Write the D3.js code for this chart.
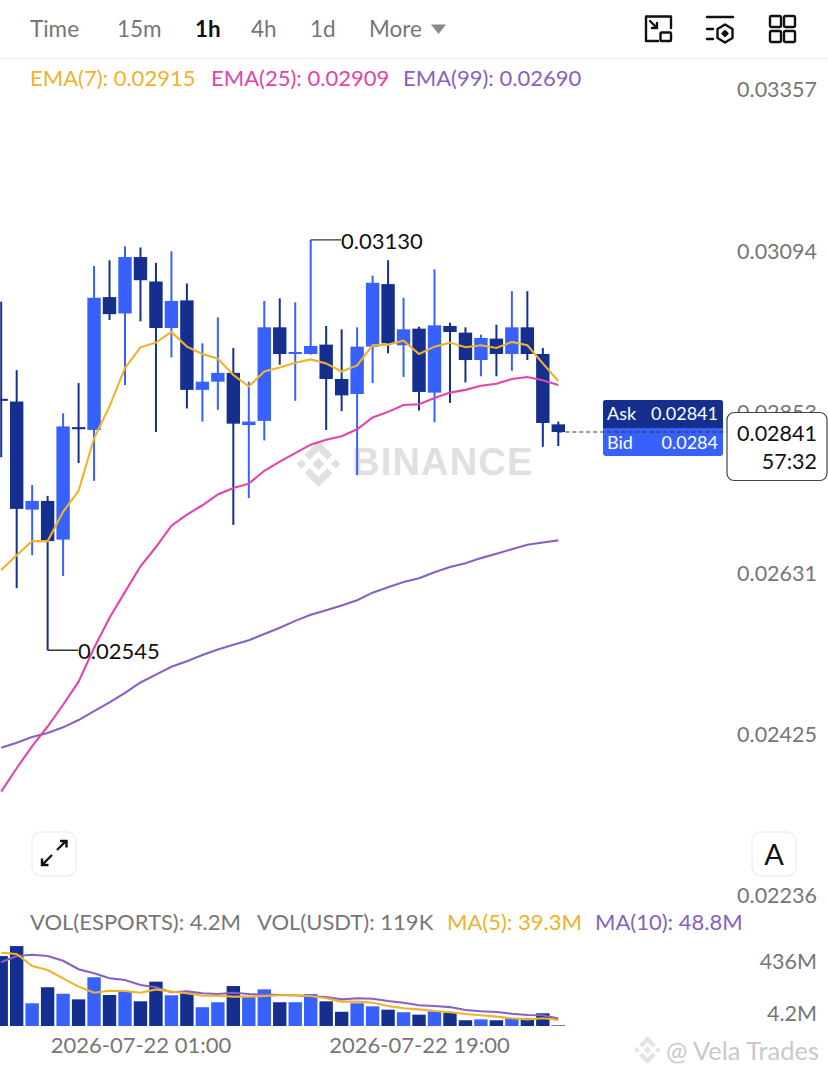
<!DOCTYPE html>
<html>
<head>
<meta charset="utf-8">
<script src="https://cdnjs.cloudflare.com/ajax/libs/d3/7.8.5/d3.min.js"></script>
<style>
  html, body { margin: 0; background: #fff; }
  svg { display: block; }
  text { font-family: Lato, "Open Sans", sans-serif; }
</style>
</head>
<body>
<script>
var w = 828;
var h = 1076;

// candles, oldest first
var opens  = [0.02889,0.02885,0.02732,0.02744,0.02691,0.02848,0.02844,0.03041,0.03016,0.03103,0.03065,0.02994,0.03036,0.02902,0.02914,0.02927,0.02851,0.02857,0.02995,0.02955,0.02955,0.02969,0.02918,0.02896,0.02966,0.03061,0.02968,0.02993,0.02898,0.02997,0.02987,0.02946,0.02978,0.02955,0.02995,0.02955,0.02852];
var closes = [0.02886,0.02733,0.02744,0.02689,0.02849,0.02845,0.03040,0.03015,0.03103,0.03067,0.02994,0.03035,0.02902,0.02914,0.02927,0.02853,0.02856,0.02995,0.02955,0.02958,0.02967,0.02918,0.02894,0.02966,0.03063,0.02971,0.02992,0.02899,0.02998,0.02988,0.02946,0.02979,0.02955,0.02995,0.02955,0.02854,0.02841];
var highs  = [0.03034,0.02931,0.02766,0.02751,0.02868,0.02912,0.03089,0.03098,0.03120,0.03118,0.03094,0.03112,0.03062,0.02971,0.03010,0.02964,0.02914,0.03035,0.03039,0.03033,0.03130,0.02997,0.02992,0.02995,0.03074,0.03098,0.03040,0.02996,0.03084,0.03002,0.02995,0.02984,0.02999,0.03050,0.03050,0.02964,0.02856];
var lows   = [0.02805,0.02626,0.02670,0.02545,0.02642,0.02797,0.02772,0.03006,0.02909,0.03004,0.02841,0.02950,0.02875,0.02856,0.02873,0.02711,0.02748,0.02829,0.02939,0.02886,0.02954,0.02844,0.02871,0.02780,0.02912,0.02956,0.02921,0.02872,0.02855,0.02883,0.02913,0.02922,0.02922,0.02930,0.02946,0.02820,0.02821];
// true = up candle (light blue), needed for the flat ones
var isUp = [0,0,1,0,1,0,1,0,1,0,0,1,0,1,1,0,1,1,0,1,1,0,0,1,1,0,1,0,1,0,0,1,0,1,0,0,0];

var ema7  = [0.02650,0.02670,0.02689,0.02689,0.02729,0.02758,0.02832,0.02878,0.02934,0.02965,0.02972,0.02988,0.02966,0.02955,0.02948,0.02924,0.02907,0.02929,0.02935,0.02942,0.02947,0.02941,0.02929,0.02938,0.02968,0.02969,0.02975,0.02955,0.02966,0.02972,0.02965,0.02968,0.02964,0.02973,0.02968,0.02941,0.02915];
var ema25 = [0.02370,0.02398,0.02425,0.02449,0.02476,0.02505,0.02548,0.02587,0.02621,0.02655,0.02681,0.02710,0.02725,0.02738,0.02753,0.02762,0.02768,0.02786,0.02799,0.02811,0.02823,0.02830,0.02835,0.02845,0.02862,0.02870,0.02880,0.02881,0.02890,0.02898,0.02902,0.02908,0.02911,0.02918,0.02921,0.02916,0.02909];
var ema99 = [0.02423,0.02429,0.02436,0.02441,0.02448,0.02457,0.02468,0.02479,0.02491,0.02504,0.02514,0.02524,0.02531,0.02539,0.02546,0.02552,0.02558,0.02566,0.02574,0.02583,0.02591,0.02597,0.02603,0.02610,0.02620,0.02627,0.02634,0.02639,0.02647,0.02654,0.02659,0.02666,0.02672,0.02678,0.02684,0.02687,0.02690];

// volume in millions
var vols = [462,528,150,256,213,176,322,205,227,163,293,203,216,124,157,264,194,242,157,157,211,163,94,150,130,108,91,75,97,86,38,44,38,53,53,84,4.2];
var ma5  = [484,476,396,370,315,260,220,233,231,220,242,227,216,200,200,194,194,198,203,203,198,183,161,161,154,132,117,110,99,91,79,71,62,51,44,51,39.3];
var ma10 = [421,462,471,462,431,375,348,315,304,271,256,223,229,216,211,220,211,207,205,203,196,192,176,183,180,165,154,137,132,125,106,97,92,81,73,71,48.8];

var priceTicks = [0.03357,0.03094,0.02853,0.02631,0.02425,0.02236];
var volTicks = ["436M","4.2M"];
var timeTicks = [9,27];
var timeLabels = ["2026-07-22 01:00","2026-07-22 19:00"];
var tabs = ["Time","15m","1h","4h","1d","More"];

var upColor = "#3861fb";
var downColor = "#142f8e";
var yellow = "#eeb32b";
var pink = "#e244ab";
var purple = "#8860c2";
var grey = "#767676";

var svg = d3.select("body").append("svg")
    .attr("width", w)
    .attr("height", h);

var x = d3.scaleLinear().domain([0, 36]).range([1.2, 558.3]);
var y = d3.scaleLog().domain([0.03357, 0.02236]).range([101, 907]);
var yVol = d3.scaleLinear().domain([0, 436]).range([1026, 960]);
var bodyW = 13.4;

function label(txt, px, py, size, color, anchor, weight) {
    return svg.append("text")
        .attr("x", px)
        .attr("y", py)
        .attr("dy", "0.35em")
        .attr("font-size", size)
        .attr("fill", color)
        .attr("text-anchor", anchor || "start")
        .attr("font-weight", weight || 400)
        .text(txt);
}

// binance diamond, unit size, centred on 0,0
var logoPath = "M0,-.26L.26,0L0,.26L-.26,0Z M-.75,-.21L-.54,0L-.75,.21L-.96,0Z M.75,-.21L.96,0L.75,.21L.54,0Z" +
    "M0,-1L.6,-.4L.38,-.18L0,-.56L-.38,-.18L-.6,-.4Z M0,1L.6,.4L.38,.18L0,.56L-.38,.18L-.6,.4Z";

// watermark goes under the chart
svg.append("path")
    .attr("d", logoPath)
    .attr("transform", "translate(318.5,464) scale(23)")
    .attr("fill", "#e0e0e0");
svg.append("text")
    .attr("x", 352)
    .attr("y", 475)
    .attr("font-size", 38)
    .attr("font-weight", 700)
    .attr("letter-spacing", 1.2)
    .attr("style", "font-family:'Liberation Sans'")
    .attr("fill", "#e0e0e0")
    .text("BINANCE");

// top tabs
var tabX = [30,117,195,251,310,369];
tabs.forEach(function(t, i) {
    label(t, tabX[i], 29, 22.5, i == 2 ? "#111" : grey, "start", i == 2 ? 700 : 400);
});
svg.append("path").attr("d", "M431,24.5H446L438.5,34Z").attr("fill", "#8a8a8a");
svg.append("line").attr("x1", 0).attr("x2", w).attr("y1", 58.5).attr("y2", 58.5).attr("stroke", "#f2f2f2").attr("stroke-width", 1.5);

// toolbar icons
var icons = svg.append("g").attr("fill", "none").attr("stroke", "#111").attr("stroke-width", 2.4).attr("stroke-linejoin", "round").attr("stroke-linecap", "round");
icons.append("path").attr("d", "M658,41H646V16.5H671V28");
icons.append("rect").attr("x", 660.5).attr("y", 32.5).attr("width", 10.5).attr("height", 8.5).attr("rx", 1);
icons.append("path").attr("d", "M650,21L657,28M657,23V28H652");
icons.append("path").attr("d", "M707,17H733M707,29H713M707,39H713");
icons.append("path").attr("d", "M725,24.5L732.5,29V38L725,42.5L717.5,38V29Z");
icons.append("path").attr("d", "M725,31L727.5,33.5L725,36L722.5,33.5Z").attr("fill", "#111");
[[770,16],[784,16],[770,31],[784,31]].forEach(function(c) {
    icons.append("rect").attr("x", c[0]).attr("y", c[1]).attr("width", 11).attr("height", 11).attr("rx", 1.5);
});

// legend row
label("EMA(7): 0.02915", 30, 78, 22, yellow);
label("EMA(25): 0.02909", 211, 78, 22, pink);
label("EMA(99): 0.02690", 403, 78, 22, purple);

// price axis, labels sit 12px above their level
var yAxis = d3.axisRight(y)
    .tickValues(priceTicks)
    .tickSize(0)
    .tickFormat(d3.format(".5f"));
var yG = svg.append("g").attr("transform", "translate(817,-11)").call(yAxis);
yG.select(".domain").remove();
yG.selectAll("text")
    .attr("x", 0)
    .attr("text-anchor", "end")
    .attr("font-size", 21.5)
    .attr("font-family", null)
    .attr("fill", grey);

// candles
var idx = d3.range(opens.length);
svg.selectAll(".wick").data(idx).enter().append("line")
    .attr("class", "wick")
    .attr("x1", function(i) { return x(i); })
    .attr("x2", function(i) { return x(i); })
    .attr("y1", function(i) { return y(highs[i]); })
    .attr("y2", function(i) { return y(lows[i]); })
    .attr("stroke", function(i) { return isUp[i] ? upColor : downColor; })
    .attr("stroke-width", 2);

svg.selectAll(".body").data(idx).enter().append("rect")
    .attr("class", "body")
    .attr("x", function(i) { return x(i) - bodyW / 2; })
    .attr("y", function(i) { return y(Math.max(opens[i], closes[i])); })
    .attr("width", bodyW)
    .attr("height", function(i) { return Math.abs(y(opens[i]) - y(closes[i])); })
    .attr("fill", function(i) { return isUp[i] ? upColor : downColor; });

// moving averages
var priceLine = d3.line().x(function(d, i) { return x(i); }).y(function(d) { return y(d); });
[[ema99, purple], [ema25, pink], [ema7, yellow]].forEach(function(s) {
    svg.append("path")
        .attr("d", priceLine(s[0]))
        .attr("fill", "none")
        .attr("stroke", s[1])
        .attr("stroke-width", 2.1);
});

// high and low markers
var hi = d3.max(highs), lo = d3.min(lows);
svg.append("path")
    .attr("d", "M" + x(highs.indexOf(hi)) + "," + y(hi) + "H341M" + x(lows.indexOf(lo)) + "," + y(lo) + "H78")
    .attr("fill", "none")
    .attr("stroke", "#333")
    .attr("stroke-width", 1.3);
label(hi.toFixed(5), 341, y(hi) + 1, 22, "#111");
label(lo.toFixed(5), 78, y(lo) + 1, 22, "#111");

// ask / bid box
var lastY = y(closes[closes.length - 1]);
svg.append("rect").attr("x", 603).attr("y", 400).attr("width", 120).attr("height", 56).attr("rx", 3).attr("fill", upColor);
svg.append("path").attr("d", "M603,428V403a3,3 0 0 1 3,-3H720a3,3 0 0 1 3,3V428Z").attr("fill", downColor);
label("Ask", 607, 414, 18, "#fff");
label("0.02841", 718, 414, 18, "#fff", "end");
label("Bid", 607, 443, 18, "#fff");
label("0.0284", 718, 443, 18, "#fff", "end");
svg.append("line")
    .attr("x1", x(36))
    .attr("x2", 728)
    .attr("y1", lastY)
    .attr("y2", lastY)
    .attr("stroke", "#333")
    .attr("stroke-width", 1.1)
    .attr("stroke-dasharray", "4,3");
svg.append("rect").attr("x", 727).attr("y", 412.5).attr("width", 100).attr("height", 68).attr("rx", 7).attr("fill", "#fff").attr("stroke", "#444").attr("stroke-width", 1.2);
label(closes[closes.length - 1].toFixed(5), 817, 433, 21.5, "#111", "end");
label("57:32", 817, 461, 21.5, "#111", "end");

// corner buttons
[32, 752].forEach(function(bx) {
    svg.append("rect").attr("x", bx).attr("y", 832).attr("width", 44).attr("height", 44).attr("rx", 9).attr("fill", "#fff").attr("stroke", "#efefef").attr("stroke-width", 1.5);
});
svg.append("path")
    .attr("d", "M57,850L66,841M60,841H66.5V847.5M52,855L42,865M42,858.5V865H48.5")
    .attr("fill", "none").attr("stroke", "#111").attr("stroke-width", 2.4);
label("A", 774, 855, 29, "#111", "middle");

// volume panel
label("VOL(ESPORTS): 4.2M", 30, 922, 22, grey);
label("VOL(USDT): 119K", 257, 922, 22, grey);
label("MA(5): 39.3M", 447, 922, 22, yellow);
label("MA(10): 48.8M", 595, 922, 22, purple);

svg.selectAll(".vol").data(idx).enter().append("rect")
    .attr("class", "vol")
    .attr("x", function(i) { return x(i) - bodyW / 2; })
    .attr("y", function(i) { return yVol(vols[i]); })
    .attr("width", bodyW)
    .attr("height", function(i) { return yVol(0) - yVol(vols[i]); })
    .attr("fill", function(i) { return isUp[i] ? upColor : downColor; });

var volLine = d3.line().x(function(d, i) { return x(i); }).y(function(d) { return yVol(d); });
[[ma10, purple], [ma5, yellow]].forEach(function(s) {
    svg.append("path")
        .attr("d", volLine(s[0]))
        .attr("fill", "none")
        .attr("stroke", s[1])
        .attr("stroke-width", 2.1);
});

label(volTicks[0], 817, 961, 21.5, grey, "end");
label(volTicks[1], 817, 1013, 21.5, grey, "end");

// time axis
var xAxis = d3.axisBottom(x)
    .tickValues(timeTicks)
    .tickSize(0)
    .tickFormat(function(d) { return timeLabels[timeTicks.indexOf(d)]; });
var xG = svg.append("g").attr("transform", "translate(0,1034)").call(xAxis);
xG.select(".domain").remove();
xG.selectAll("text")
    .attr("font-size", 22)
    .attr("font-family", null)
    .attr("fill", grey);

// corner credit
svg.append("path")
    .attr("d", logoPath)
    .attr("transform", "translate(647.5,1050) scale(14)")
    .attr("fill", "#e4e4e4");
label("@ Vela Trades", 666, 1051, 25.5, "#c9c9c9");
</script>
</body>
</html>
